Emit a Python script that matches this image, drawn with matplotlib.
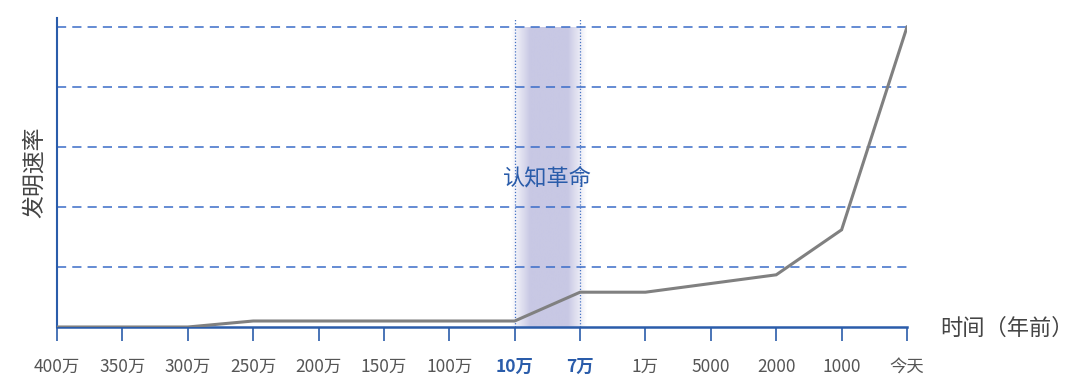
import numpy as np
import matplotlib.pyplot as plt
from matplotlib.colors import LinearSegmentedColormap

plt.rcParams['font.family'] = ['Noto Sans CJK SC', 'DejaVu Sans']

# Étiquettes de l'axe du temps
tick_labels = ['400万', '350万', '300万', '250万', '200万', '150万', '100万',
               '10万', '7万', '1万', '5000', '2000', '1000', '今天']

# Points de la courbe (indice de graduation, vitesse d'invention)
x_idx = [0, 1, 2, 3, 4, 5, 6, 7, 8, 9, 11, 12, 13]
rate = [0, 0, 0, 0.1, 0.1, 0.1, 0.1, 0.1, 0.58, 0.58, 0.87, 1.62, 5.0]

# Zone de la révolution cognitive
zone_debut, zone_fin = 7, 8
zone_texte = '认知革命'

bleu = '#2a5caa'
gris_texte = '#555555'

fig = plt.figure(figsize=(10.8, 3.87), dpi=100)
ax = fig.add_axes([57 / 1080, 1 - 327 / 387, 850 / 1080, 309 / 387])

ax.set_xlim(0, 13)
ax.set_ylim(0, 5.15)

# Lignes de grille horizontales
for y in [1, 2, 3, 4, 5]:
    ax.plot([0, 13], [y, y], color='#3a6cc8', lw=1.1, ls=(0, (6, 4)), zorder=1)

# Bande dégradée
cmap = LinearSegmentedColormap.from_list('bande', ['#ffffff', '#c8c8e4', '#c8c8e4', '#c8c8e4', '#ffffff'])
grad = np.linspace(0, 1, 256).reshape(1, -1)
ax.imshow(grad, cmap=cmap, extent=[zone_debut - 0.06, zone_fin + 0.1, 0, 5.0],
          aspect='auto', zorder=0)
for xv in [zone_debut, zone_fin]:
    ax.plot([xv, xv], [0, 5.15], color='#4472c4', lw=0.9, ls=(0, (1, 1.5)), zorder=2)
ax.text((zone_debut + zone_fin) / 2, 2.48, zone_texte, color=bleu, fontsize=16,
        ha='center', va='center', zorder=3)

# Courbe
ax.plot(x_idx, rate, color='#808080', lw=2.2, zorder=4, solid_joinstyle='miter')

for s in ['top', 'right']:
    ax.spines[s].set_visible(False)
ax.spines['left'].set_color(bleu)
ax.spines['bottom'].set_color(bleu)
ax.spines['left'].set_linewidth(1.5)
ax.spines['bottom'].set_linewidth(1.8)

ax.set_yticks([])
ax.set_xticks(range(len(tick_labels)))
ax.set_xticklabels(tick_labels, fontsize=12.5, color=gris_texte)
ax.tick_params(axis='x', direction='out', length=10, width=1.2, color=bleu, pad=12)
for i, lab in enumerate(ax.get_xticklabels()):
    if i in (zone_debut, zone_fin):
        lab.set_color(bleu)
        lab.set_fontweight('bold')

ax.set_ylabel('发明速率', fontsize=16.5, color='#444444', labelpad=8)
fig.text(1007 / 1080, 1 - 328 / 387, '时间（年前）', fontsize=16, color='#444444',
         ha='center', va='center')

fig.savefig('out.png', dpi=100)
